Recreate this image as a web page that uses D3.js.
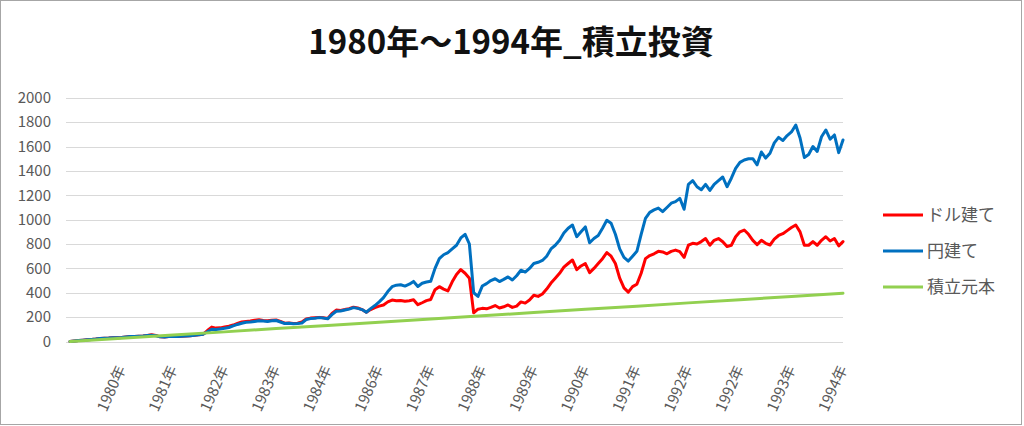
<!DOCTYPE html>
<html><head><meta charset="utf-8">
<script src="https://cdn.jsdelivr.net/npm/d3@7"></script>
<style>html,body{margin:0;padding:0;background:#fff;}svg{display:block;}</style>
</head><body>
<svg id="c" width="1024" height="426"></svg>
<script>
// ---- data (monthly samples, month 0..180) ----
const title = "1980年～1994年_積立投資";
const seriesNames = ["ドル建て", "円建て", "積立元本"];
const xTickMonths = [12,24,36,48,60,72,84,96,108,120,132,144,156,168,180];
const xTickLabels = ["1980年","1981年","1982年","1983年","1984年","1986年","1987年","1988年","1989年","1990年","1991年","1992年","1992年","1993年","1994年"];
const yTicks = [0,200,400,600,800,1000,1200,1400,1600,1800,2000];

const dollarValues = [
 0,4,8,11,14,17,20,25,27,28,30,31,33,38,41,42,44,46,49,56,50,38,36,40,42,41,43,45,47,52,55,60,
 90,118,110,112,120,125,135,148,160,165,168,175,178,172,170,175,176,165,150,152,148,150,160,185,192,195,198,195,188,
 230,258,255,262,270,282,275,262,240,262,278,290,300,325,340,335,337,330,335,342,302,318,335,345,
 425,450,430,415,490,550,590,560,520,235,265,272,268,280,295,275,285,300,280,290,325,315,340,
 380,370,390,430,480,520,560,610,640,669,590,620,640,565,600,640,680,730,700,640,520,440,405,450,470,
 560,680,705,720,740,735,720,740,750,737,690,790,806,800,820,845,790,830,845,819,780,790,
 860,900,915,880,830,795,830,806,792,840,870,885,910,935,956,900,790,790,820,790,830,860,825,845,785,820
];
const yenValues = [
 0,4,8,11,14,17,20,25,27,28,30,31,33,38,41,42,44,46,49,52,47,38,36,40,42,41,43,45,47,52,55,60,
 80,100,98,103,108,115,128,140,150,158,160,165,170,168,165,170,172,160,148,150,146,148,152,180,188,190,196,192,186,
 220,248,250,258,266,278,272,262,240,270,295,325,360,410,450,462,466,455,470,493,452,478,488,495,
 600,680,712,730,760,790,850,880,800,400,370,455,475,500,515,492,510,530,505,540,585,570,600,
 640,650,665,700,760,790,830,890,930,956,860,900,940,810,845,870,930,995,970,880,760,690,660,700,740,
 880,1010,1060,1080,1095,1066,1100,1135,1148,1175,1085,1290,1320,1270,1245,1290,1240,1290,1320,1350,1270,1340,
 1420,1470,1490,1500,1500,1450,1555,1505,1545,1630,1675,1650,1690,1720,1777,1670,1510,1535,1600,1560,1680,1736,1660,1695,1550,1654
];
const principalMonths = [0,12,24,36,48,60,72,84,96,108,120,132,144,156,168,180];
const principalValues = [0,26,53,79,106,132,158,185,211,238,264,290,317,343,370,396];

// ---- drawing ----
const W = 1024, H = 426;
const svg = d3.select("#c");
const FONT = "'Noto Sans CJK JP','Noto Sans',sans-serif";
const plotL = 66, plotR = 843, plotT = 97.8, plotB = 341.5;

svg.append("rect").attr("x",0).attr("y",0).attr("width",W).attr("height",H).attr("fill","#fff");
svg.append("rect").attr("x",0.5).attr("y",0.5).attr("width",1021).attr("height",424)
  .attr("fill","none").attr("stroke","#a6a6a6").attr("stroke-width",1);

const x = d3.scaleLinear().domain([0,180]).range([70, plotR]);
const y = d3.scaleLinear().domain([0,2000]).range([plotB, plotT]);

// title
svg.append("text").attr("x",511).attr("y",54).attr("text-anchor","middle")
  .attr("font-family",FONT).attr("font-weight","bold").attr("font-size",33).attr("fill","#111")
  .text(title);

// gridlines
svg.append("g").selectAll("line").data(yTicks).join("line")
  .attr("x1",plotL).attr("x2",plotR)
  .attr("y1",d=>Math.round(y(d))+0.5).attr("y2",d=>Math.round(y(d))+0.5)
  .attr("stroke","#d9d9d9").attr("stroke-width",1);

// y axis labels
const yAxis = d3.axisLeft(y).tickValues(yTicks).tickFormat(d3.format("d")).tickSize(0).tickPadding(0);
const gy = svg.append("g").attr("transform",`translate(51,0)`).call(yAxis);
gy.select(".domain").remove();
gy.selectAll("text").attr("font-family",FONT).attr("font-size",15).attr("fill","#595959");

// x axis labels
const xAxis = d3.axisBottom(x).tickValues(xTickMonths).tickFormat((d,i)=>xTickLabels[i]).tickSize(0);
const gx = svg.append("g").attr("transform",`translate(0,${plotB})`).call(xAxis);
gx.select(".domain").remove();
gx.selectAll("text")
  .attr("font-family",FONT).attr("font-size",15).attr("fill","#595959")
  .attr("text-anchor","end").attr("dy",null).attr("y",0)
  .attr("transform","translate(4,27) rotate(-66)");

// lines
const line = d3.line().x(d=>x(d[0])).y(d=>y(d[1]));
const red = dollarValues.map((v,i)=>[i,v]);
const blue = yenValues.map((v,i)=>[i,v]);
const green = principalValues.map((v,i)=>[principalMonths[i],v]);
const colors = ["#ff0000","#0070c0","#92d050"];
[red, blue, green].forEach((s,k)=>{
  svg.append("path").datum(s).attr("d",line).attr("fill","none")
    .attr("stroke",colors[k]).attr("stroke-width",3)
    .attr("stroke-linejoin","round").attr("stroke-linecap","round");
});

// legend
const lg = svg.append("g");
seriesNames.forEach((n,i)=>{
  const ly = 215 + i*36;
  lg.append("line").attr("x1",883).attr("x2",923).attr("y1",ly).attr("y2",ly)
    .attr("stroke",colors[i]).attr("stroke-width",3);
  lg.append("text").attr("x",927).attr("y",ly).attr("dy","0.35em")
    .attr("font-family",FONT).attr("font-size",17).attr("fill","#595959").text(n);
});
</script>
</body></html>
